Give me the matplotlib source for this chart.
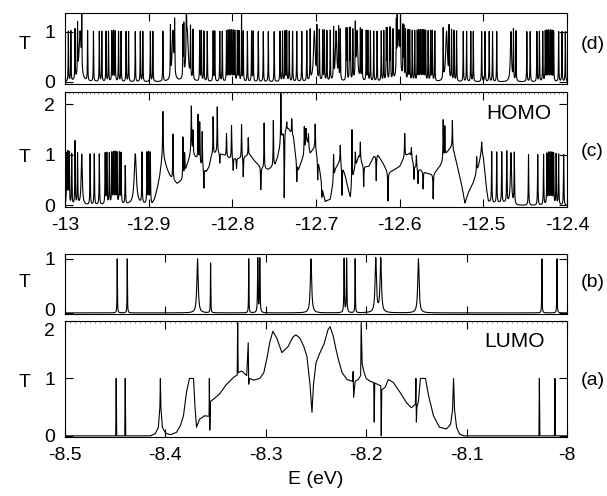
import numpy as np
import matplotlib
matplotlib.use("Agg")
from matplotlib import pyplot as plt
from matplotlib.ticker import MultipleLocator
from matplotlib.transforms import ScaledTranslation

plt.rcParams['font.family'] = ['Liberation Sans', 'DejaVu Sans']

# ---- (d) HOMO region, sharp resonances (T=1 at centre)
d_sharp = [-12.996, -12.993, -12.988, -12.985, -12.980, -12.973, -12.966, -12.959, -12.956,
           -12.951, -12.948, -12.944, -12.942, -12.940, -12.936, -12.933, -12.927, -12.924,
           -12.916, -12.910, -12.907, -12.898, -12.895, -12.883, -12.874, -12.869, -12.859,
           -12.858, -12.855, -12.850, -12.847, -12.839, -12.837, -12.834, -12.830, -12.823,
           -12.821, -12.815, -12.812, -12.807, -12.805, -12.803, -12.801, -12.799, -12.797,
           -12.794, -12.792, -12.787, -12.782, -12.777, -12.775, -12.769, -12.763,
           -12.757, -12.750, -12.743, -12.740, -12.737, -12.735, -12.732, -12.728, -12.723,
           -12.717, -12.711, -12.707, -12.699, -12.696, -12.692, -12.690, -12.687,
           -12.683, -12.679, -12.673, -12.671, -12.664, -12.663, -12.660, -12.659,
           -12.656, -12.653, -12.647, -12.645, -12.640, -12.638, -12.635, -12.631,
           -12.627, -12.622, -12.619, -12.616, -12.615, -12.612, -12.611, -12.608, -12.604,
           -12.603, -12.599, -12.596, -12.595, -12.593, -12.590, -12.588, -12.585, -12.582,
           -12.579, -12.577, -12.575, -12.573, -12.571, -12.569, -12.566, -12.563, -12.561,
           -12.558, -12.548, -12.541, -12.538, -12.535, -12.532, -12.524, -12.520, -12.515,
           -12.512, -12.502, -12.498, -12.493, -12.489, -12.484, -12.464, -12.461, -12.448,
           -12.444, -12.436, -12.433, -12.429, -12.426, -12.424, -12.422, -12.420, -12.418,
           -12.416, -12.410, -12.406, -12.402]
d_broad_E = [-12.982, -12.871, -12.854, -12.702, -12.676, -12.651, -12.601, -12.544, -12.467]
d_broad_w = [0.0015, 0.0012, 0.0015, 0.0012, 0.0010, 0.0010, 0.0015, 0.0012, 0.0008]
d_tall_E = [-12.789]
d_tall_T = [1.4]

# ---- (c) HOMO, slowly varying background + resonances (E, amplitude, width)
c_bg_E = [-13.000, -12.896, -12.893, -12.890, -12.887, -12.885, -12.883, -12.881, -12.878,
          -12.875, -12.872, -12.866, -12.860, -12.857, -12.855, -12.852, -12.849, -12.846,
          -12.843, -12.837, -12.831, -12.828, -12.825, -12.819, -12.811, -12.803,
          -12.791, -12.779, -12.773, -12.765, -12.757, -12.749, -12.746, -12.743, -12.739,
          -12.733, -12.727, -12.724, -12.721, -12.715, -12.711, -12.707, -12.701, -12.698,
          -12.695, -12.692, -12.689, -12.683, -12.680, -12.677, -12.671, -12.665, -12.662,
          -12.659, -12.655, -12.649, -12.643, -12.637, -12.631, -12.626, -12.620, -12.614,
          -12.606, -12.600, -12.594, -12.588, -12.582, -12.576, -12.568, -12.560, -12.552,
          -12.548, -12.544, -12.541, -12.538, -12.535, -12.532, -12.529, -12.526, -12.522,
          -12.518, -12.512, -12.506, -12.504, -12.502, -12.500, -12.498, -12.496, -12.494,
          -12.488, -12.472, -12.464, -12.460, -12.400]
c_bg_T = [0.00, 0.02, 0.12, 0.31, 0.55, 0.80, 1.00, 0.88, 0.72,
          0.60, 0.52, 0.43, 0.50, 0.62, 0.75, 0.90, 1.05, 0.98,
          0.93, 0.77, 0.67, 0.75, 0.97, 1.05, 1.00, 0.93,
          0.93, 1.00, 0.87, 0.74, 0.71, 0.80, 0.95, 1.17, 1.49,
          1.52, 1.36, 0.95, 0.71, 0.97, 1.29, 1.03, 1.16, 0.95,
          0.64, 0.30, 0.08, 0.12, 0.40, 0.71, 0.90, 0.58, 0.35,
          0.15, 0.64, 0.97, 0.77, 0.77, 0.97, 1.00, 0.84, 0.64,
          0.71, 0.77, 0.97, 1.03, 0.77, 0.71, 0.64, 0.61, 0.77,
          0.88, 1.03, 1.10, 1.16, 1.05, 0.84, 0.62, 0.41, 0.05,
          0.25, 0.45, 0.77, 0.92, 1.10, 0.95, 0.64, 0.30, 0.08,
          0.05, 0.05, 0.02, 0.00, 0.00]
c_res = [(-12.998, 1, 3e-4), (-12.9965, 1, 3e-4), (-12.995, 1, 3e-4), (-12.992, 1, 3e-4),
         (-12.988, 1.25, 3e-4), (-12.985, 1, 3e-4), (-12.980, 1, 8e-4), (-12.970, 1, 3e-4),
         (-12.965, 1, 3e-4), (-12.959, 1, 3e-4), (-12.952, 1, 3e-4), (-12.950, 1, 3e-4),
         (-12.947, 1, 3e-4), (-12.944, 1, 3e-4), (-12.942, 1, 3e-4), (-12.940, 1, 3e-4),
         (-12.938, 1, 3e-4), (-12.935, 1, 3e-4), (-12.933, 1, 3e-4), (-12.928, 0.75, 3e-4),
         (-12.916, 1, 1.5e-3), (-12.908, 1, 3e-4), (-12.902, 1, 3e-4), (-12.900, 1, 3e-4),
         (-12.898, 1, 3e-4),
         (-12.883, 0.85, 4e-4), (-12.871, 0.9, 3e-4), (-12.859, 0.8, 3e-4), (-12.857, 0.4, 3e-4),
         (-12.849, 0.9, 4e-4), (-12.847, 0.45, 3e-4), (-12.841, 0.9, 3e-4), (-12.839, 0.8, 3e-4),
         (-12.836, 0.7, 3e-4), (-12.834, -0.4, 3e-4), (-12.823, 0.75, 3e-4), (-12.818, 0.9, 3e-4),
         (-12.815, -0.2, 3e-4), (-12.807, 0.45, 3e-4), (-12.801, 0.65, 3e-4), (-12.799, -0.25, 3e-4),
         (-12.795, -0.2, 3e-4), (-12.789, 0.66, 3e-4), (-12.787, -0.4, 3e-4), (-12.781, 0.35, 3e-4),
         (-12.766, -0.45, 3e-4), (-12.762, 0.9, 3e-4), (-12.751, 0.9, 3e-4), (-12.742, 1.0, 3e-4),
         (-12.738, -1.35, 3e-4), (-12.735, 0.15, 3e-4), (-12.729, 0.3, 3e-4), (-12.723, -0.4, 3e-4),
         (-12.714, 0.5, 3e-4), (-12.712, 0.3, 3e-4), (-12.709, 0.25, 3e-4), (-12.701, 0.45, 3e-4),
         (-12.698, -0.45, 3e-4), (-12.693, -0.25, 3e-4), (-12.679, 0.5, 3e-4), (-12.671, 0.3, 3e-4),
         (-12.669, -0.6, 3e-4), (-12.657, 1.1, 3e-4), (-12.653, 0.3, 3e-4), (-12.647, 0.35, 3e-4),
         (-12.643, -0.4, 3e-4), (-12.628, -0.5, 3e-4), (-12.614, -0.55, 3e-4), (-12.594, 0.45, 3e-4),
         (-12.586, 0.2, 3e-4), (-12.583, -0.3, 3e-4), (-12.580, 0.25, 3e-4), (-12.578, -0.3, 3e-4),
         (-12.572, -0.35, 3e-4), (-12.560, -0.48, 3e-4), (-12.548, 0.8, 3e-4), (-12.546, 0.6, 3e-4),
         (-12.537, 0.55, 3e-4), (-12.508, 0.3, 3e-4), (-12.502, 0.15, 3e-4),
         (-12.490, 1, 3e-4), (-12.484, 1, 3e-4), (-12.478, 1, 3e-4), (-12.472, 1, 3e-4),
         (-12.467, 1, 8e-4), (-12.463, 1, 3e-4), (-12.446, 1, 3e-4), (-12.435, 1, 3e-4),
         (-12.428, 1, 3e-4), (-12.424, 1, 3e-4), (-12.422, 1, 3e-4), (-12.420, 1, 3e-4),
         (-12.418, 1, 3e-4), (-12.416, 1, 3e-4), (-12.413, 1, 3e-4), (-12.410, 1, 3e-4),
         (-12.404, 1, 3e-4)]

# ---- (b) LUMO region resonances
b_E = [-8.448, -8.438, -8.368, -8.355, -8.317, -8.308, -8.306, -8.255, -8.222, -8.2195,
       -8.211, -8.1905, -8.1855, -8.148, -8.025, -8.010]
b_T = [1, 1, 1, 0.92, 1, 1, 1, 1, 1, 1, 1, 1, 1, 1, 1, 1]
b_w = [2e-4, 2e-4, 8e-4, 2e-4, 2e-4, 3e-4, 3e-4, 8e-4, 3e-4, 3e-4, 2e-4, 8e-4, 8e-4,
       8e-4, 2e-4, 2e-4]

# ---- (a) LUMO transmission curve
a_E = [-8.500, -8.4495, -8.449, -8.4485, -8.4405, -8.440, -8.4395, -8.415, -8.410, -8.407,
       -8.4055, -8.405, -8.4045, -8.403, -8.400, -8.395, -8.389, -8.385, -8.382, -8.379,
       -8.376, -8.372, -8.3705, -8.369, -8.366, -8.361, -8.3565, -8.3562, -8.3558, -8.355,
       -8.352, -8.346, -8.339, -8.332, -8.3285, -8.328, -8.3275, -8.324, -8.319, -8.3175,
       -8.317, -8.3165, -8.312, -8.306, -8.302, -8.299, -8.296, -8.293, -8.289, -8.284,
       -8.278, -8.273, -8.270, -8.266, -8.262, -8.259, -8.256, -8.254, -8.2525, -8.250,
       -8.246, -8.242, -8.238, -8.236, -8.233, -8.230, -8.228, -8.224, -8.219, -8.2135,
       -8.213, -8.2125, -8.211, -8.208, -8.2055, -8.205, -8.204, -8.202, -8.200, -8.196,
       -8.1925, -8.192, -8.1915, -8.189, -8.1855, -8.185, -8.1845, -8.181, -8.178, -8.173,
       -8.166, -8.160, -8.155, -8.151, -8.1505, -8.150, -8.1495, -8.148, -8.146, -8.141,
       -8.138, -8.133, -8.127, -8.120, -8.116, -8.114, -8.113, -8.112, -8.110, -8.107,
       -8.103, -8.028, -8.0275, -8.027, -8.0125, -8.012, -8.0115, -8.000]
a_T = [0.00, 0.00, 1.00, 0.00, 0.00, 1.00, 0.00, 0.00, 0.04, 0.15,
       0.50, 1.00, 0.50, 0.15, 0.05, 0.02, 0.06, 0.18, 0.35, 0.76,
       1.00, 1.00, 0.50, 0.15, 0.29, 0.35, 0.34, 1.00, 0.10, 0.60,
       0.64, 0.73, 0.90, 1.02, 1.06, 1.97, 1.10, 1.13, 1.05, 1.62,
       0.90, 1.00, 0.97, 1.00, 1.10, 1.34, 1.63, 1.82, 1.70, 1.45,
       1.55, 1.72, 1.76, 1.70, 1.55, 1.38, 0.90, 0.41, 0.90, 1.27,
       1.45, 1.60, 1.85, 1.90, 1.75, 1.50, 1.35, 1.10, 0.98, 0.95,
       1.12, 0.67, 0.95, 0.98, 1.05, 1.97, 1.25, 1.10, 1.00, 0.95,
       0.93, 0.24, 0.92, 0.90, 0.87, 0.00, 0.80, 0.85, 0.98, 0.93,
       0.75, 0.58, 0.49, 0.55, 1.00, 0.24, 0.50, 0.60, 1.00, 1.00,
       0.71, 0.35, 0.15, 0.12, 0.20, 0.45, 1.00, 0.45, 0.15, 0.03,
       0.00, 0.00, 1.00, 0.00, 0.00, 1.00, 0.00, 0.00]


def lorentz(E, centres, amps, widths):
    T = np.zeros_like(E)
    for e0, a, w in zip(centres, amps, widths):
        T += a * w**2 / ((E - e0)**2 + w**2)
    return T


Eh = np.linspace(-13.0, -12.4, 40000)
El = np.linspace(-8.5, -8.0, 40000)

Td = lorentz(Eh, d_sharp, [1] * len(d_sharp), [2.5e-4] * len(d_sharp))
Td += lorentz(Eh, d_broad_E, [1] * len(d_broad_E), d_broad_w)
Td += lorentz(Eh, d_tall_E, d_tall_T, [2e-4] * len(d_tall_E))

Tc = np.interp(Eh, c_bg_E, c_bg_T)
Tc += lorentz(Eh, [r[0] for r in c_res], [r[1] for r in c_res], [r[2] for r in c_res])
Tc = np.clip(Tc, 0, None)

Tb = lorentz(El, b_E, b_T, b_w)

fig = plt.figure(figsize=(6.07, 4.96), dpi=100)
W = 502 / 607
ax_d = fig.add_axes([65 / 607, 1 - 84 / 496, W, 71 / 496])
ax_c = fig.add_axes([65 / 607, 1 - 207 / 496, W, 115 / 496])
ax_b = fig.add_axes([65 / 607, 1 - 314 / 496, W, 60 / 496])
ax_a = fig.add_axes([65 / 607, 1 - 437 / 496, W, 116 / 496])

ax_d.plot(Eh, Td, color='black', lw=0.8)
ax_c.plot(Eh, Tc, color='black', lw=0.8)
ax_b.plot(El, Tb, color='black', lw=0.8)
ax_a.plot(a_E, a_T, color='black', lw=0.8)

ax_d.set_ylim(-0.04, 1.38)
ax_c.set_ylim(-0.03, 2.24)
ax_b.set_ylim(-0.02, 1.09)
ax_a.set_ylim(-0.02, 2.0)
for ax in (ax_d, ax_c):
    ax.set_xlim(-13.0, -12.4)
    ax.xaxis.set_major_locator(MultipleLocator(0.1))
for ax in (ax_b, ax_a):
    ax.set_xlim(-8.5, -8.0)
    ax.xaxis.set_major_locator(MultipleLocator(0.1))
ax_d.set_yticks([0, 1])
ax_b.set_yticks([0, 1])
ax_c.set_yticks([0, 1, 2])
ax_a.set_yticks([0, 1, 2])

fmt = lambda v, p: ('%g' % round(v, 2))
panel_y = {ax_d: 0.56, ax_c: 0.43, ax_b: 0.52, ax_a: 0.47}
for ax in (ax_d, ax_c, ax_b, ax_a):
    ax.tick_params(direction='in', top=True, right=True, length=6, width=0.8,
                   labelsize=14, pad=7)
    for s in ax.spines.values():
        s.set_linewidth(0.8)
    ax.yaxis.set_major_formatter(fmt)
    ax.xaxis.set_major_formatter(fmt)
    ax.set_ylabel('T', rotation=0, fontsize=14, va='center', ha='center')
    ax.yaxis.set_label_coords(-0.08, panel_y[ax], transform=ax.transAxes)
ax_d.tick_params(labelbottom=False)
ax_b.tick_params(labelbottom=False)

for ax in (ax_c, ax_a):
    ax.xaxis.set_minor_locator(MultipleLocator(0.005))
    ax.tick_params(which='minor', direction='in', bottom=False, top=True,
                   length=1.5, width=0.5, color='0.4')

# nudge the crowded "0" of (b) up and the "2" of (a) down, as they sit at the gap
fig.canvas.draw()
lab_b0 = ax_b.yaxis.get_major_ticks()[0].label1
lab_b0.set_transform(lab_b0.get_transform() + ScaledTranslation(0, 3 / 100, fig.dpi_scale_trans))
lab_a2 = ax_a.yaxis.get_major_ticks()[-1].label1
lab_a2.set_transform(lab_a2.get_transform() + ScaledTranslation(0, -8 / 100, fig.dpi_scale_trans))

for ax, lab, yy in ((ax_d, '(d)', 0.56), (ax_c, '(c)', 0.48), (ax_b, '(b)', 0.52), (ax_a, '(a)', 0.49)):
    ax.text(1.027, yy, lab, transform=ax.transAxes, fontsize=14, va='center', ha='left')

ax_c.text(0.905, 0.81, 'HOMO', transform=ax_c.transAxes, fontsize=15, ha='center', va='center')
ax_a.text(0.895, 0.82, 'LUMO', transform=ax_a.transAxes, fontsize=15, ha='center', va='center')

fig.text(316 / 607, 1 - 480 / 496, 'E (eV)', fontsize=14, ha='center', va='center')

fig.savefig('out.png', dpi=100)
